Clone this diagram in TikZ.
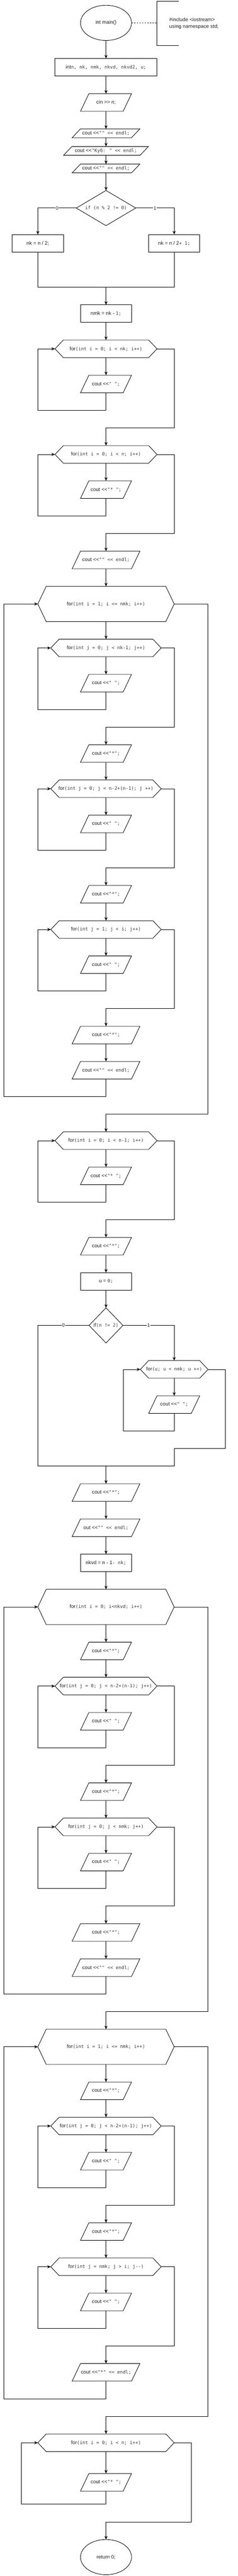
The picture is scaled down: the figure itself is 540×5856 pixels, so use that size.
\documentclass[tikz,border=0pt]{standalone}
\usepackage{fontspec}
\setmainfont{Liberation Sans}
\newfontfamily\monof{DejaVu Sans Mono}
\usetikzlibrary{shapes.geometric,arrows.meta}
\definecolor{txt}{HTML}{202020}
\definecolor{mtxt}{HTML}{3A3A3A}
\newcommand\codet[1]{{\monof\fontsize{10.5}{14}\selectfont\color{mtxt}#1}}
\newcommand\rectn[6]{\node[box,shp,minimum width=#4pt,minimum height=#5pt] (#1) at (#2,#3) {#6};}
\newcommand\paran[6]{\node[box,minimum width=#4pt,minimum height=#5pt] (#1) at (#2,#3) {#6};
  \draw[shp] ([xshift=19pt]#1.north west) -- (#1.north east) -- ([xshift=-19pt]#1.south east) -- (#1.south west) -- cycle;}
\newcommand\hexn[6]{\node[box,minimum width=#4pt,minimum height=#5pt] (#1) at (#2,#3) {#6};
  \draw[shp] (#1.west) -- ([xshift=19pt]#1.north west) -- ([xshift=-19pt]#1.north east) -- (#1.east) -- ([xshift=-19pt]#1.south east) -- ([xshift=19pt]#1.south west) -- cycle;}
\newcommand\diamn[6]{\node[box,minimum width=#4pt,minimum height=#5pt] (#1) at (#2,#3) {#6};
  \draw[shp] (#1.north) -- (#1.east) -- (#1.south) -- (#1.west) -- cycle;}
\newcommand\loopn[7]{\draw[arr] (#2.south) |- (#4,#5) |- (#1.west);
  \draw[arr] (#1.east) -| (#6,#7) -| (#3.north);}
\begin{document}
\begin{tikzpicture}[x=1pt,y=-1pt,
  box/.style={inner sep=0pt,outer sep=0pt,align=center,text=txt,font=\fontsize{11.5}{14}\selectfont},
  shp/.style={draw=black,line width=1pt,line join=miter},
  ln/.style={draw=black,line width=1pt},
  arr/.style={ln,-{Stealth[length=8pt,width=7pt,inset=2.5pt]}},
  lbl/.style={fill=white,inner sep=1pt,text=txt,font=\fontsize{11}{12}\selectfont}]
\useasboundingbox (0,0) rectangle (540,5856);
\fill[white] (0,0) rectangle (540,5856);

% start and note
\node[box,shp,ellipse,minimum width=116pt,minimum height=80pt] (start) at (241,52) {int main()};
\coordinate (br) at (357,52);
\draw[ln,dash pattern=on 3pt off 3pt] (start.east) -- (br);
\draw[line width=1.5pt] (406,3) -- (357,3) -- (357,104) -- (406,104);
\node[box,anchor=west,align=left,font=\fontsize{11.5}{15}\selectfont] (note) at (385,53) {\#include <iostream>\\using namespace std;};

\rectn{decl}{241}{153}{232}{40}{int\codet{ n, nk, nmk, nkvd, nkvd2, u;}}
\paran{cin}{241}{233}{116}{40}{cin >{}> n;}
\paran{p1}{241}{303}{154}{20}{cout <{}<\codet{ "" <{}< endl;}}
\paran{p2}{241}{343}{193}{20}{cout <{}<\codet{ "Куб: " <{}< endl;}}
\paran{p3}{241}{383}{154}{20}{cout <{}<\codet{ "" <{}< endl;}}
\diamn{if1}{241}{473}{135}{80}{\codet{if (n \% 2 != 0)}}
\rectn{n1}{86}{553}{116}{40}{nk = n / 2;}
\rectn{n2}{396}{553}{116}{40}{nk = n / 2\codet{ + 1;}}
\coordinate (m1) at (241,653);
\rectn{nmk}{241}{713}{116}{40}{nmk = nk - \codet{1;}}
\hexn{L1}{241}{793}{232}{40}{for\codet{ (int i = 0; i < nk; i++)}}
\paran{b1}{241}{873}{116}{40}{cout <{}<\codet{ " ";}}
\hexn{L2}{241}{1033}{232}{40}{for\codet{ (int i = 0; i < n; i++)}}
\paran{b2}{241}{1113}{116}{40}{cout <{}<\codet{ "* ";}}
\paran{p4}{241}{1273}{154}{40}{cout <{}<\codet{ "" <{}< endl;}}
\hexn{O1}{241}{1373}{310}{80}{for\codet{ (int i = 1; i <= nmk; i++)}}
\hexn{A}{241}{1473}{251}{40}{for\codet{ (int j = 0; j < nk-1; j++)}}
\paran{a1}{241}{1553}{116}{40}{cout <{}<\codet{ " ";}}
\paran{a2}{241}{1713}{116}{40}{cout <{}<\codet{ "*";}}
\hexn{B}{241}{1793}{251}{40}{for\codet{ (int j = 0; j < n-2+(n-1); j ++)}}
\paran{b3}{241}{1873}{116}{40}{cout <{}<\codet{ " ";}}
\paran{b4}{241}{2033}{116}{40}{cout <{}<\codet{ "*";}}
\hexn{C}{241}{2113}{251}{40}{for\codet{ (int j = 1; j < i; j++)}}
\paran{c1}{241}{2193}{116}{40}{cout <{}<\codet{ " ";}}
\paran{c2}{241}{2353}{154}{40}{cout <{}<\codet{ "*";}}
\paran{c3}{241}{2433}{154}{40}{cout <{}<\codet{ "" <{}< endl;}}
\hexn{L3}{241}{2593}{232}{40}{for\codet{ (int i = 0; i < n-1; i++)}}
\paran{d1}{241}{2673}{116}{40}{cout <{}<\codet{ "* ";}}
\paran{d2}{241}{2833}{116}{40}{cout <{}<\codet{ "*";}}
\rectn{u0}{241}{2913}{116}{40}{u = \codet{0;}}
\diamn{if2}{241}{3013}{77}{80}{if\codet{ (n != 2)}}
\hexn{L4}{396}{3113}{154}{40}{for\codet{ (u; u < nmk; u ++)}}
\paran{e1}{396}{3193}{116}{40}{cout <{}<\codet{ " ";}}
\coordinate (j2) at (241,3333);
\paran{e2}{241}{3393}{154}{40}{cout <{}<\codet{ "*";}}
\paran{e3}{241}{3473}{154}{40}{out <{}<\codet{ "" <{}< endl;}}
\rectn{nkvd}{241}{3553}{116}{40}{nkvd = n - 1\codet{ - nk;}}
\hexn{O2}{241}{3653}{310}{80}{for\codet{ (int i = 0; i<nkvd; i++)}}
\paran{f1}{241}{3753}{116}{40}{cout <{}<\codet{ "*";}}
\hexn{D}{241}{3833}{232}{40}{for\codet{ (int j = 0; j < n-2+(n-1); j++)}}
\paran{f2}{241}{3913}{116}{40}{cout <{}<\codet{ " ";}}
\paran{f3}{241}{4073}{116}{40}{cout <{}<\codet{ "*";}}
\hexn{E}{241}{4153}{232}{40}{for\codet{ (int j = 0; j < nmk; j++)}}
\paran{f4}{241}{4233}{116}{40}{cout <{}<\codet{ " ";}}
\paran{f5}{241}{4393}{154}{40}{cout <{}<\codet{ "*";}}
\paran{f6}{241}{4473}{154}{40}{cout <{}<\codet{ "" <{}< endl;}}
\hexn{O3}{241}{4653}{310}{80}{for\codet{ (int i = 1; i <= nmk; i++)}}
\paran{g1}{241}{4753}{116}{40}{cout <{}<\codet{ "*";}}
\hexn{F}{241}{4833}{251}{40}{for\codet{ (int j = 0; j < n-2+(n-1); j++)}}
\paran{g2}{241}{4913}{116}{40}{cout <{}<\codet{ " ";}}
\paran{g3}{241}{5073}{116}{40}{cout <{}<\codet{ "*";}}
\hexn{G}{241}{5153}{251}{40}{for\codet{ (int j = nmk; j > i; j-{}-)}}
\paran{g4}{241}{5233}{116}{40}{cout <{}<\codet{ " ";}}
\paran{g5}{241}{5393}{154}{40}{cout <{}<\codet{ "*" <{}< endl;}}
\hexn{H}{241}{5553}{310}{40}{for\codet{ (int i = 0; i < n; i++)}}
\paran{h1}{241}{5643}{116}{40}{cout <{}<\codet{ "* ";}}
\node[box,shp,ellipse,minimum width=116pt,minimum height=80pt] (end) at (241,5813) {return 0;};

% connectors
\draw[arr] (start.south) -- (decl.north);
\draw[arr] (decl.south) -- (cin.north);
\draw[arr] (cin.south) -- (p1.north);
\draw[arr] (p1.south) -- (p2.north);
\draw[arr] (p2.south) -- (p3.north);
\draw[arr] (p3.south) -- (if1.north);
\draw[arr] (if1.west) -| node[lbl,pos=0.25]{0} (n1.north);
\draw[arr] (if1.east) -| node[lbl,pos=0.25]{1} (n2.north);
\draw[ln] (n1.south) |- (m1) -| (n2.south);
\draw[arr] (m1) -- (nmk.north);
\draw[arr] (nmk.south) -- (L1.north);
\draw[arr] (L1.south) -- (b1.north);
\loopn{L1}{b1}{L2}{86}{933}{396}{973}
\draw[arr] (L2.south) -- (b2.north);
\loopn{L2}{b2}{p4}{86}{1173}{396}{1213}
\draw[arr] (p4.south) -- (O1.north);
\draw[arr] (O1.south) -- (A.north);
\draw[arr] (A.south) -- (a1.north);
\loopn{A}{a1}{a2}{86}{1613}{396}{1653}
\draw[arr] (a2.south) -- (B.north);
\draw[arr] (B.south) -- (b3.north);
\loopn{B}{b3}{b4}{86}{1933}{396}{1973}
\draw[arr] (b4.south) -- (C.north);
\draw[arr] (C.south) -- (c1.north);
\loopn{C}{c1}{c2}{86}{2253}{396}{2293}
\draw[arr] (c2.south) -- (c3.north);
\loopn{O1}{c3}{L3}{9}{2493}{473}{2533}
\draw[arr] (L3.south) -- (d1.north);
\loopn{L3}{d1}{d2}{86}{2733}{396}{2773}
\draw[arr] (d2.south) -- (u0.north);
\draw[arr] (u0.south) -- (if2.north);
\draw[arr] (if2.east) -| node[lbl,pos=0.25]{1} (L4.north);
\draw[arr] (L4.south) -- (e1.north);
\draw[arr] (e1.south) |- (280,3253) |- (L4.west);
\draw[ln] (if2.west) -| node[lbl,pos=0.25]{0} (86,3333) -| (396,3293) -| (512,3113) -- (L4.east);
\draw[arr] (j2) -- (e2.north);
\draw[arr] (e2.south) -- (e3.north);
\draw[arr] (e3.south) -- (nkvd.north);
\draw[arr] (nkvd.south) -- (O2.north);
\draw[arr] (O2.south) -- (f1.north);
\draw[arr] (f1.south) -- (D.north);
\draw[arr] (D.south) -- (f2.north);
\loopn{D}{f2}{f3}{86}{3973}{396}{4013}
\draw[arr] (f3.south) -- (E.north);
\draw[arr] (E.south) -- (f4.north);
\loopn{E}{f4}{f5}{86}{4293}{396}{4333}
\draw[arr] (f5.south) -- (f6.north);
\loopn{O2}{f6}{O3}{9}{4533}{473}{4573}
\draw[arr] (O3.south) -- (g1.north);
\draw[arr] (g1.south) -- (F.north);
\draw[arr] (F.south) -- (g2.north);
\loopn{F}{g2}{g3}{86}{4973}{396}{5013}
\draw[arr] (g3.south) -- (G.north);
\draw[arr] (G.south) -- (g4.north);
\loopn{G}{g4}{g5}{86}{5293}{396}{5333}
\loopn{O3}{g5}{H}{9}{5453}{473}{5493}
\draw[arr] (H.south) -- (h1.north);
\loopn{H}{h1}{end}{48}{5693}{435}{5733}
\end{tikzpicture}
\end{document}
